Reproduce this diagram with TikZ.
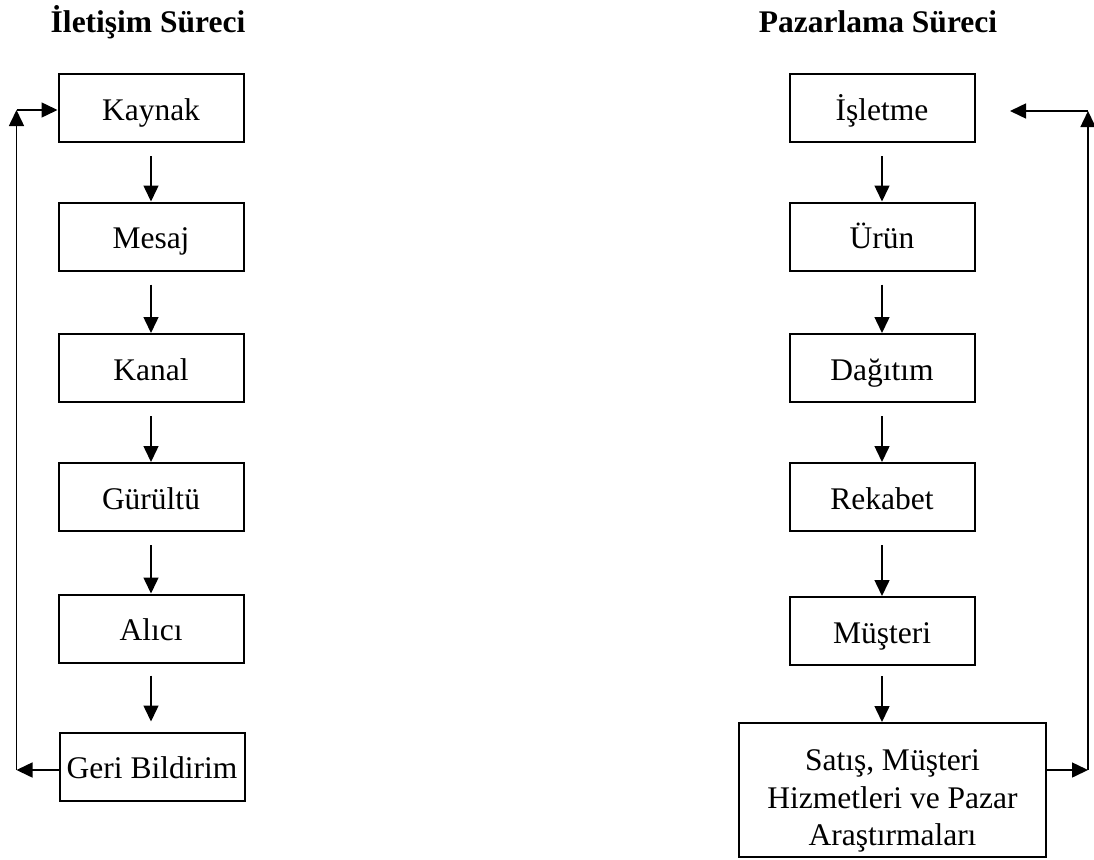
\documentclass[tikz,border=0pt]{standalone}
\usepackage{fontspec}
\setmainfont{Liberation Serif}
\usetikzlibrary{arrows.meta, positioning}

\begin{document}
\begin{tikzpicture}[x=1pt, y=-1pt,
    font=\fontsize{31.5}{37.5}\selectfont,
    stepBox/.style={draw, line width=2pt, minimum width=185pt, minimum height=68pt,
                    inner sep=0pt, text height=24pt, text depth=0pt},
    bigBox/.style={draw, line width=2pt, minimum width=307pt, minimum height=134pt,
                   inner sep=0pt, align=center},
    headText/.style={font=\fontsize{31.5}{36}\selectfont\bfseries, anchor=base},
    arr/.style={line width=1.5pt, -{Triangle[length=16pt, width=15pt]}}]
  % Parameters
  \def\leftX{151}
  \def\rightX{882}

  \useasboundingbox (0,0) rectangle (1094,859);

  % Titles
  \node[headText] (titleL) at (148,33) {İletişim Süreci};
  \node[headText] (titleR) at (878,33) {Pazarlama Süreci};

  % Communication process (left column)
  \node[stepBox] (kaynak) at (\leftX,108) {Kaynak};
  \node[stepBox] (mesaj) at (\leftX,236.5) {Mesaj};
  \node[stepBox] (kanal) at (\leftX,368) {Kanal};
  \node[stepBox] (gurultu) at (\leftX,497) {Gürültü};
  \node[stepBox] (alici) at (\leftX,628.5) {Alıcı};
  \node[stepBox] (geri) at (152,766.5) {Geri Bildirim};

  % Marketing process (right column)
  \node[stepBox] (isletme) at (\rightX,108) {İşletme};
  \node[stepBox] (urun) at (\rightX,236.5) {Ürün};
  \node[stepBox] (dagitim) at (\rightX,368) {Dağıtım};
  \node[stepBox] (rekabet) at (\rightX,497) {Rekabet};
  \node[stepBox] (musteri) at (\rightX,631) {Müşteri};
  \node[bigBox] (satis) at (892.5,790) {\rule{0pt}{43pt}Satış, Müşteri\\Hizmetleri ve Pazar\\Araştırmaları};

  % Downward arrows
  \foreach \a/\b in {kaynak/mesaj, mesaj/kanal, kanal/gurultu, gurultu/alici,
                     isletme/urun, urun/dagitim, dagitim/rekabet, rekabet/musteri} {
    \draw[arr, shorten <=13pt] (\a.south) -- (\b.north);
  }
  \draw[arr, shorten <=12pt, shorten >=10pt] (alici.south) -- (alici.south |- geri.north);
  \draw[arr, shorten <=10pt] (musteri.south) -- (musteri.south |- satis.north);

  % Feedback loop (left)
  \coordinate (lb) at (16.5,770);
  \coordinate (lt) at (16.5,110);
  \draw[arr] (geri.west |- lb) -- (lb);
  \draw[arr] (lb) -- (lt);
  \draw[arr] (lt) -- (kaynak.west |- lt);

  % Feedback loop (right)
  \coordinate (rb) at (1088,770);
  \coordinate (rt) at (1088,111);
  \coordinate (rend) at (1010,111);
  \draw[arr] (satis.east |- rb) -- (rb);
  \draw[arr] (rb) -- (rt);
  \draw[arr] (rt) -- (rend);
\end{tikzpicture}
\end{document}
